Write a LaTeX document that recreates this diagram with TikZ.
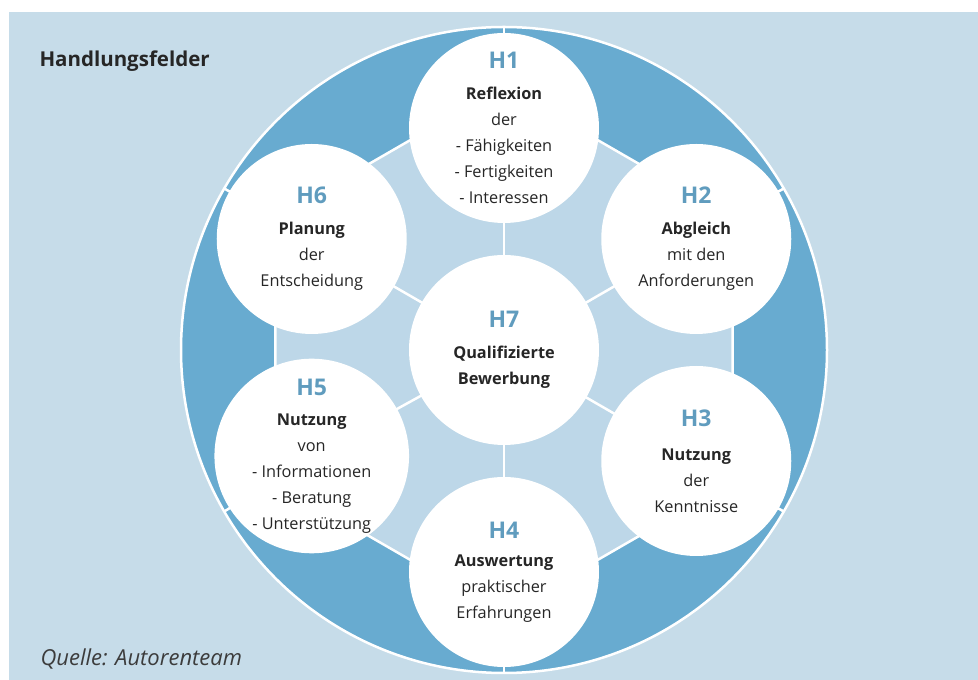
\documentclass[tikz,border=0pt]{standalone}
\usepackage{fontspec}
\setmainfont{Open Sans}
\definecolor{bgblue}{RGB}{198,220,233}
\definecolor{hexblue}{RGB}{189,215,232}
\definecolor{ringblue}{RGB}{104,171,208}
\definecolor{hblue}{RGB}{96,156,190}
\definecolor{txt}{RGB}{38,38,38}
\pgfdeclarelayer{ringlayer}
\pgfdeclarelayer{spokes}
\pgfsetlayers{ringlayer,spokes,main}
\newcommand\hnum[1]{{\color{hblue}\bfseries\fontsize{23}{26}\selectfont #1}}
\tikzset{
  field/.style={circle, fill=white, minimum size=190pt, inner sep=0pt,
    align=center, text=txt, font=\fontsize{16.3}{26}\selectfont},
  whiteline/.style={draw=white, line width=2.5pt},
}
\begin{document}
\begin{tikzpicture}[x=1pt,y=1pt]
\useasboundingbox (0,0) rectangle (978,680);
\begin{pgfonlayer}{ringlayer}
  \fill[white] (0,0) rectangle (978,680);
  \fill[bgblue] (9,0) rectangle (978,668);
\end{pgfonlayer}

\node[anchor=base west, text=txt, font=\bfseries\fontsize{20.5}{22}\selectfont] (title) at (36,613) {Handlungsfelder};
\node[anchor=base west, text=txt!90, font=\itshape\fontsize{22}{24}\selectfont] (source) at (37,14) {Quelle: Autorenteam};

\begin{scope}[shift={(504,330)}]
  % ring and inner hexagon
  \begin{pgfonlayer}{ringlayer}
    \fill[ringblue] (0,0) circle[radius=323];
    \draw[whiteline] (0,0) circle[radius=323];
    \draw[whiteline, fill=hexblue] (90:264) -- (30:264) -- (-30:264) -- (-90:264) -- (-150:264) -- (150:264) -- cycle;
  \end{pgfonlayer}
  \coordinate (o1) at (90:323);
  \coordinate (o2) at (30:323);
  \coordinate (o3) at (-30:323);
  \coordinate (o4) at (-90:323);
  \coordinate (o5) at (-150:323);
  \coordinate (o6) at (150:323);

  % fields of action
  \node[field] (c1) at (90:222) {\hnum{H1}\\[5pt] \textbf{Reflexion}\\ der\\ - Fähigkeiten\\ - Fertigkeiten\\ - Interessen};
  \node[field] (c2) at (30:222) {\hnum{H2}\\[5pt] \textbf{Abgleich}\\ mit den\\ Anforderungen};
  \node[field] (c3) at (-30:222) {\hnum{H3}\\[8pt] \textbf{Nutzung}\\ der\\ Kenntnisse};
  \node[field] (c4) at (-90:222) {\hnum{H4}\\[2pt] \textbf{Auswertung}\\ praktischer\\ Erfahrungen};
  \node[field, yshift=5pt] (c5) at (-150:222) {\hnum{H5}\\[4pt] \textbf{Nutzung}\\ von\\ - Informationen\\ - Beratung\\ - Unterstützung};
  \node[field] (c6) at (150:222) {\hnum{H6}\\[5pt] \textbf{Planung}\\ der\\ Entscheidung};
  \node[field] (c7) at (0,0) {\hnum{H7}\\[5pt] \textbf{Qualifizierte}\\ \textbf{Bewerbung}};

  % spokes and ring separators
  \begin{pgfonlayer}{spokes}
    \foreach \i in {1,...,6} {
      \draw[whiteline] (c7.center) -- (c\i.center);
      \draw[whiteline] (c\i.center) -- (o\i);
    }
  \end{pgfonlayer}
\end{scope}
\end{tikzpicture}
\end{document}
